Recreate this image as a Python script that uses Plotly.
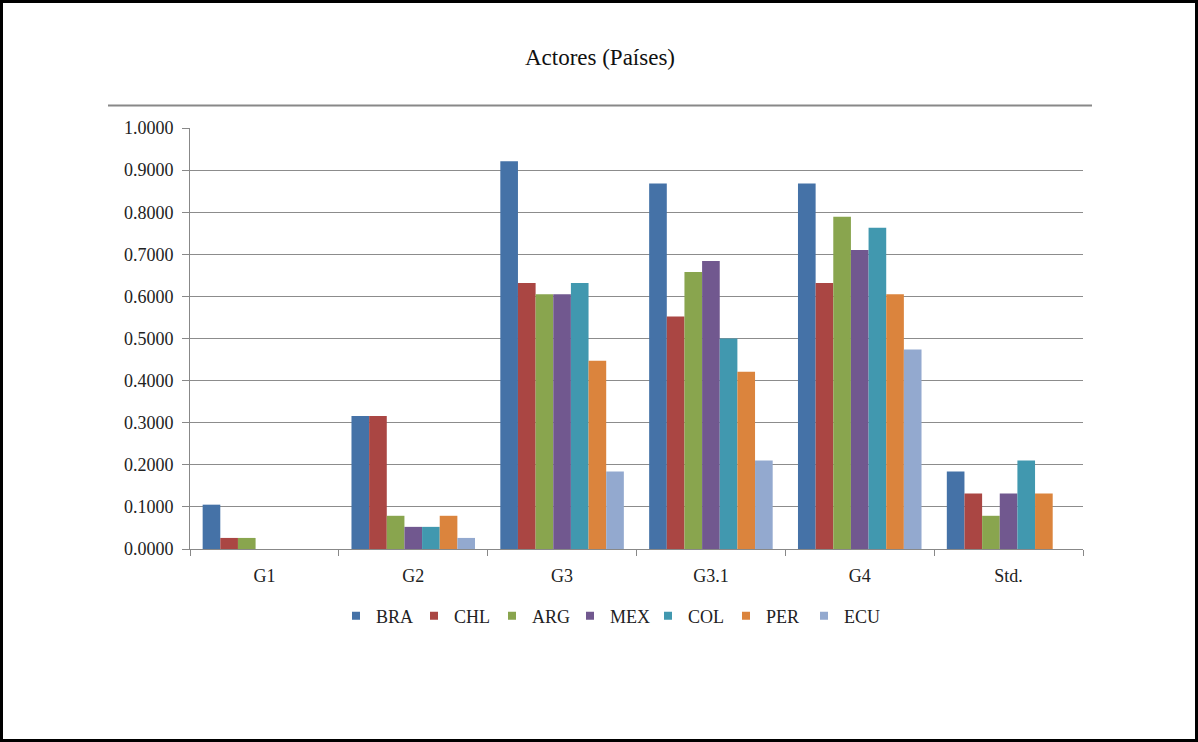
import plotly.graph_objects as go

# Categories and series values
categories = ["G1", "G2", "G3", "G3.1", "G4", "Std."]
series_names = ["BRA", "CHL", "ARG", "MEX", "COL", "PER", "ECU"]
bra = [0.1053, 0.3158, 0.9211, 0.8684, 0.8684, 0.1842]
chl = [0.0263, 0.3158, 0.6316, 0.5526, 0.6316, 0.1316]
arg = [0.0263, 0.0789, 0.6053, 0.6579, 0.7895, 0.0789]
mex = [0.0000, 0.0526, 0.6053, 0.6842, 0.7105, 0.1316]
col = [0.0000, 0.0526, 0.6316, 0.5000, 0.7632, 0.2105]
per = [0.0000, 0.0789, 0.4474, 0.4211, 0.6053, 0.1316]
ecu = [0.0000, 0.0263, 0.1842, 0.2105, 0.4737, 0.0000]
y_ticks = [0.0, 0.1, 0.2, 0.3, 0.4, 0.5, 0.6, 0.7, 0.8, 0.9, 1.0]

series_values = [bra, chl, arg, mex, col, per, ecu]
colors = ["#4572A7", "#AA4643", "#89A54E", "#71588F", "#4198AF", "#DB843D", "#93A9CF"]

FONT = "Liberation Serif"
W, H = 1198, 742
L, R, T, B = 190, 115, 128, 193

fig = go.Figure()
for name, vals, c in zip(series_names, series_values, colors):
    fig.add_trace(go.Bar(
        x=categories, y=vals, name=name, marker_color=c,
        marker_line_width=0, showlegend=False,
    ))
# legend entries with small square keys
for name, c in zip(series_names, colors):
    fig.add_trace(go.Scatter(
        x=[None], y=[None], mode="markers", name=name,
        marker=dict(symbol="square", size=8, color=c),
    ))

pw = W - L - R
ph = H - T - B
def px_x(p):
    return (p - L) / pw
def px_y(p):
    return (H - B - p) / ph

shapes = [
    # outer frame
    dict(type="rect", xref="paper", yref="paper",
         x0=px_x(1.5), x1=px_x(W - 1.5), y0=px_y(1.5), y1=px_y(H - 1.5),
         line=dict(color="black", width=3), fillcolor="rgba(0,0,0,0)", layer="above"),
    # rule under the title
    dict(type="line", xref="paper", yref="paper",
         x0=px_x(108), x1=px_x(1092), y0=px_y(105.5), y1=px_y(105.5),
         line=dict(color="#888888", width=2)),
]

fig.update_layout(
    width=W, height=H,
    margin=dict(l=L, r=R, t=T, b=B, pad=0),
    paper_bgcolor="white", plot_bgcolor="white",
    font=dict(family=FONT, size=18, color="#222222"),
    title=dict(text="Actores (Países)", x=600 / W, xref="container", xanchor="center",
               y=1 - 57 / H, yanchor="middle",
               font=dict(family=FONT, size=23, color="#111111")),
    barmode="group", bargap=0.17, bargroupgap=0,
    showlegend=True,
    legend=dict(orientation="h", x=px_x(336), xanchor="left", y=px_y(616), yanchor="middle",
                font=dict(family=FONT, size=18, color="#222222"), itemwidth=30,
                entrywidth=33, entrywidthmode="pixels", tracegroupgap=0),
    shapes=shapes,
)
fig.update_xaxes(
    showline=True, linecolor="#888888", linewidth=1,
    ticks="outside", tickson="boundaries", ticklen=6, tickcolor="#888888",
    showgrid=False, ticklabelstandoff=10,
    tickfont=dict(family=FONT, size=18, color="#222222"),
)
fig.update_yaxes(
    range=[0, 1.0001], tickvals=y_ticks, tickformat=".4f",
    showline=True, linecolor="#888888", linewidth=1,
    ticks="outside", ticklen=7, tickcolor="#888888",
    showgrid=True, gridcolor="#8c8c8c", gridwidth=1,
    zeroline=False, ticklabelstandoff=5,
    tickfont=dict(family=FONT, size=18, color="#222222"),
)

fig.write_html("out.html")
